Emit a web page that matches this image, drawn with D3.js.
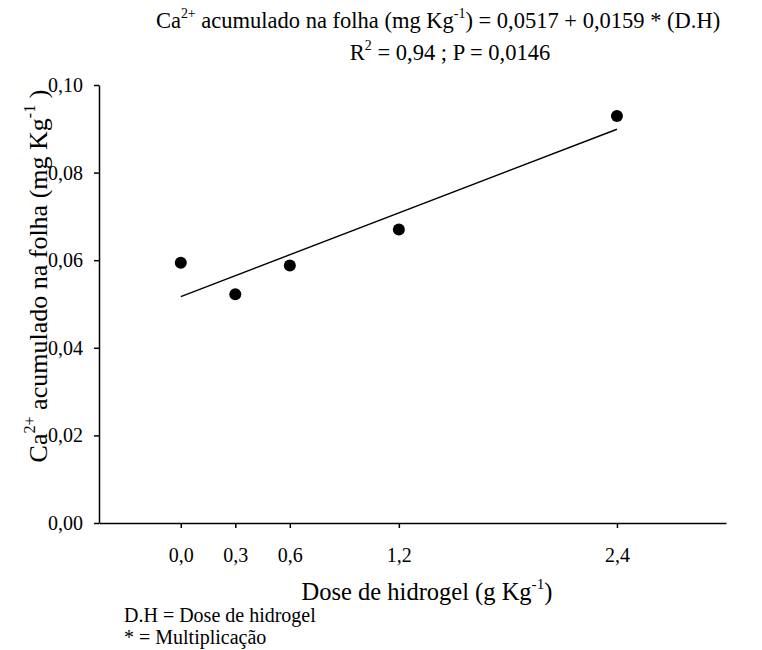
<!DOCTYPE html>
<html>
<head>
<meta charset="utf-8">
<script src="https://cdn.jsdelivr.net/npm/d3@7"></script>
<style>
  body { margin: 0; background: #fff; }
  svg text { font-family: "Liberation Serif", "Times New Roman", serif !important; fill: #000; }
</style>
</head>
<body>
<svg class="chart"></svg>
<script>
var width = 762;
var height = 650;

// doses (g Kg-1) and Ca2+ accumulated in the leaf (mg Kg-1)
var doses = [0, 0.3, 0.6, 1.2, 2.4];
var calcium = [0.0594, 0.0522, 0.0588, 0.0670, 0.0929];

// fitted line ends
var fit_x = [0, 2.4];
var fit_y = [0.0517, 0.0899];

var x_ticks = [0, 0.3, 0.6, 1.2, 2.4];
var y_ticks = [0, 0.02, 0.04, 0.06, 0.08, 0.10];

var margin = {'top': 85, 'right': 36, 'bottom': 127, 'left': 99};
var serif = '"Liberation Serif", "Times New Roman", serif';

var chart = d3.select(".chart")
    .attr("width", width)
    .attr("height", height)
    .style('font-family', serif);

var x = d3.scaleLinear()
  .domain([-0.45, 3.0])
  .range([margin['left'], width - margin['right']]);

var y = d3.scaleLinear()
  .domain([0, 0.10])
  .range([height - margin['bottom'], margin['top']]);

// comma decimals
var fmt_x = function(d){ return d3.format(".1f")(d).replace('.', ','); };
var fmt_y = function(d){ return d3.format(".2f")(d).replace('.', ','); };

var x_axis = d3.axisBottom()
  .scale(x)
  .tickValues(x_ticks)
  .tickFormat(fmt_x)
  .tickSize(5)
  .tickSizeOuter(0)
  .tickPadding(20);

var y_axis = d3.axisLeft()
  .scale(y)
  .tickValues(y_ticks)
  .tickFormat(fmt_y)
  .tickSize(5)
  .tickSizeOuter(0)
  .tickPadding(11);

chart.append('g')
  .attr('transform', 'translate(0,' + y(0) + ')')
  .call(x_axis)
  .attr('font-family', null);

chart.append('g')
  .attr('transform', 'translate(' + x.range()[0] + ',0)')
  .call(y_axis)
  .attr('font-family', null);

chart.selectAll('.domain, .tick line')
  .attr('stroke', '#000')
  .attr('stroke-width', 1.5);

chart.selectAll('.tick text')
  .style('font-family', serif)
  .attr('font-size', 20)
  .attr('fill', '#000');

// regression line
var line = d3.line()
  .x(function(d){ return x(d[0]); })
  .y(function(d){ return y(d[1]); });

chart.append('path')
  .datum(d3.zip(fit_x, fit_y))
  .attr('d', line)
  .attr('fill', 'none')
  .attr('stroke', '#000')
  .attr('stroke-width', 1.4);

// observed points
chart.append('g')
  .selectAll('circle')
  .data(d3.zip(doses, calcium))
  .join('circle')
    .attr('cx', function(d){ return x(d[0]); })
    .attr('cy', function(d){ return y(d[1]); })
    .attr('r', 6)
    .attr('fill', '#000');

// text with superscripts: parts are [text, isSup]
var rich = function(sel, parts, size){
  sel.style('font-family', serif);
  parts.forEach(function(p){
    sel.append('tspan')
      .attr('font-size', p[1] ? size * 0.62 : size)
      .attr('baseline-shift', p[1] ? size * 0.45 : 0)
      .text(p[0]);
  });
};

var t1 = chart.append('text')
  .attr('x', 438)
  .attr('y', 28)
  .attr('text-anchor', 'middle');
rich(t1, [['Ca', 0], ['2+', 1], [' acumulado na folha (mg Kg', 0], ['-1', 1], [') = 0,0517 + 0,0159 * (D.H)', 0]], 22.5);

var t2 = chart.append('text')
  .attr('x', 450)
  .attr('y', 60)
  .attr('text-anchor', 'middle');
rich(t2, [['R', 0], ['2', 1], [' = 0,94 ; P = 0,0146', 0]], 22.5);

// y label
var yl = chart.append('text')
  .attr('transform', 'translate(47,' + 276 + ') rotate(-90)')
  .attr('text-anchor', 'middle');
rich(yl, [['Ca', 0], ['2+', 1], [' acumulado na folha (mg Kg', 0], ['-1', 1], [' )', 0]], 26);

// x label
var xl = chart.append('text')
  .attr('x', 427)
  .attr('y', 600)
  .attr('text-anchor', 'middle');
rich(xl, [['Dose de hidrogel (g Kg', 0], ['-1', 1], [')', 0]], 24.5);

// notes
chart.append('text')
  .attr('x', 124)
  .attr('y', 622)
  .attr('font-size', 20)
  .style('font-family', serif)
  .text('D.H = Dose de hidrogel');

chart.append('text')
  .attr('x', 124)
  .attr('y', 644)
  .attr('font-size', 20)
  .style('font-family', serif)
  .text('* = Multiplicação');
</script>
</body>
</html>
